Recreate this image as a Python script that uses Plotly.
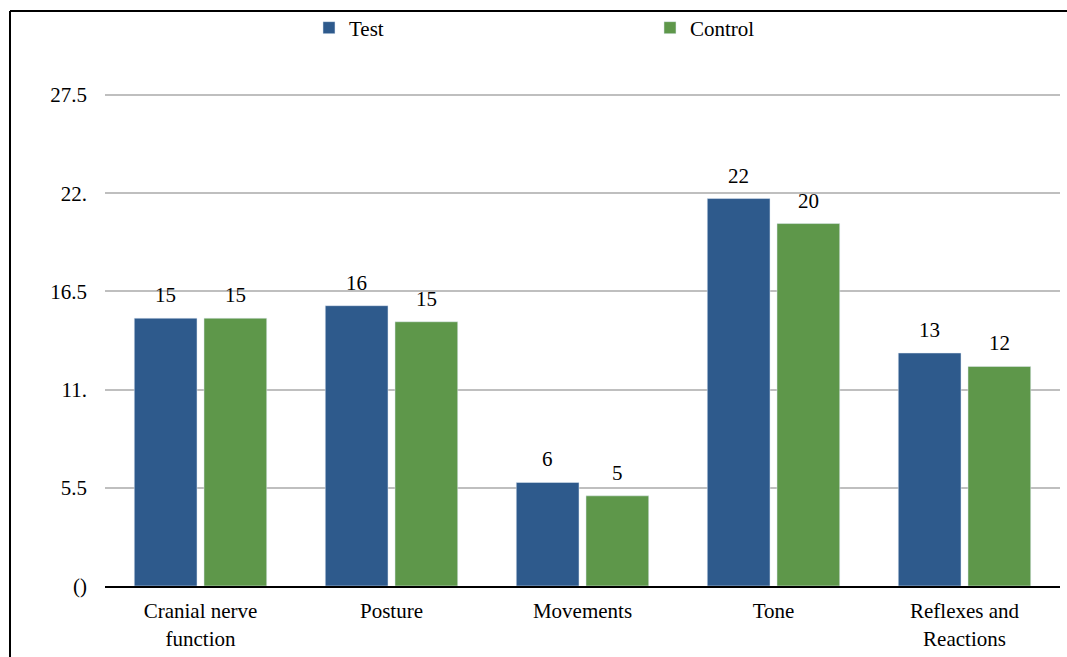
import plotly.graph_objects as go

categories = ["Cranial nerve<br>function", "Posture", "Movements", "Tone", "Reflexes and<br>Reactions"]
test_values = [15.0, 15.7, 5.8, 21.7, 13.05]
control_values = [15.0, 14.8, 5.05, 20.3, 12.3]
tick_values = [0, 5.5, 11, 16.5, 22, 27.5]
tick_labels = ["()", "5.5", "11.", "16.5", "22.", "27.5"]

BLUE = "#2E5A8C"
GREEN = "#5E974A"
FONT = "Liberation Serif"
FS = 21

fig = go.Figure()
fig.add_trace(go.Bar(x=categories, y=test_values, name="Test", marker_color=BLUE))
fig.add_trace(go.Bar(x=categories, y=control_values, name="Control", marker_color=GREEN))

# value labels above each bar, rounded to whole numbers
annotations = []
for vals, shift in ((test_values, -34.8), (control_values, 34.8)):
    for cat, v in zip(categories, vals):
        annotations.append(dict(
            x=cat, y=v, xref="x", yref="y", text=f"{v:.0f}", showarrow=False,
            xshift=shift, yshift=23, yanchor="middle",
            font=dict(family=FONT, size=FS, color="#000000"),
        ))

# outer frame (top and left edges)
fx, fy = -95 / 955, (586 - 11) / 496
fig.update_layout(
    width=1067, height=657,
    margin=dict(l=105, r=7, t=90, b=71, autoexpand=False),
    paper_bgcolor="white", plot_bgcolor="white",
    barmode="group", bargap=0.27, bargroupgap=0.1,
    font=dict(family=FONT, size=FS, color="#000000"),
    showlegend=True,
    legend=dict(
        orientation="h", x=0.2136, y=1 + (90 - 28) / 496, xanchor="left", yanchor="middle",
        entrywidth=296, entrywidthmode="pixels", itemwidth=30,
        font=dict(family=FONT, size=FS), bgcolor="rgba(0,0,0,0)",
    ),
    annotations=annotations,
    shapes=[
        dict(type="line", xref="paper", yref="paper", x0=fx, x1=1.2, y0=fy, y1=fy,
             line=dict(color="#000000", width=2)),
        dict(type="line", xref="paper", yref="paper", x0=fx, x1=fx, y0=fy, y1=-0.3,
             line=dict(color="#000000", width=2)),
    ],
)
fig.update_xaxes(
    showgrid=False, showline=True, linecolor="#000000", linewidth=2,
    ticks="", tickfont=dict(family=FONT, size=FS), ticklabelstandoff=5,
)
fig.update_yaxes(
    range=[0, 27.78], tickmode="array", tickvals=tick_values, ticktext=tick_labels,
    showgrid=True, gridcolor="#BFBFBF", gridwidth=2, zeroline=False,
    showline=False, ticks="", ticklabelstandoff=17,
    tickfont=dict(family=FONT, size=FS),
)

fig.write_html("out.html")
